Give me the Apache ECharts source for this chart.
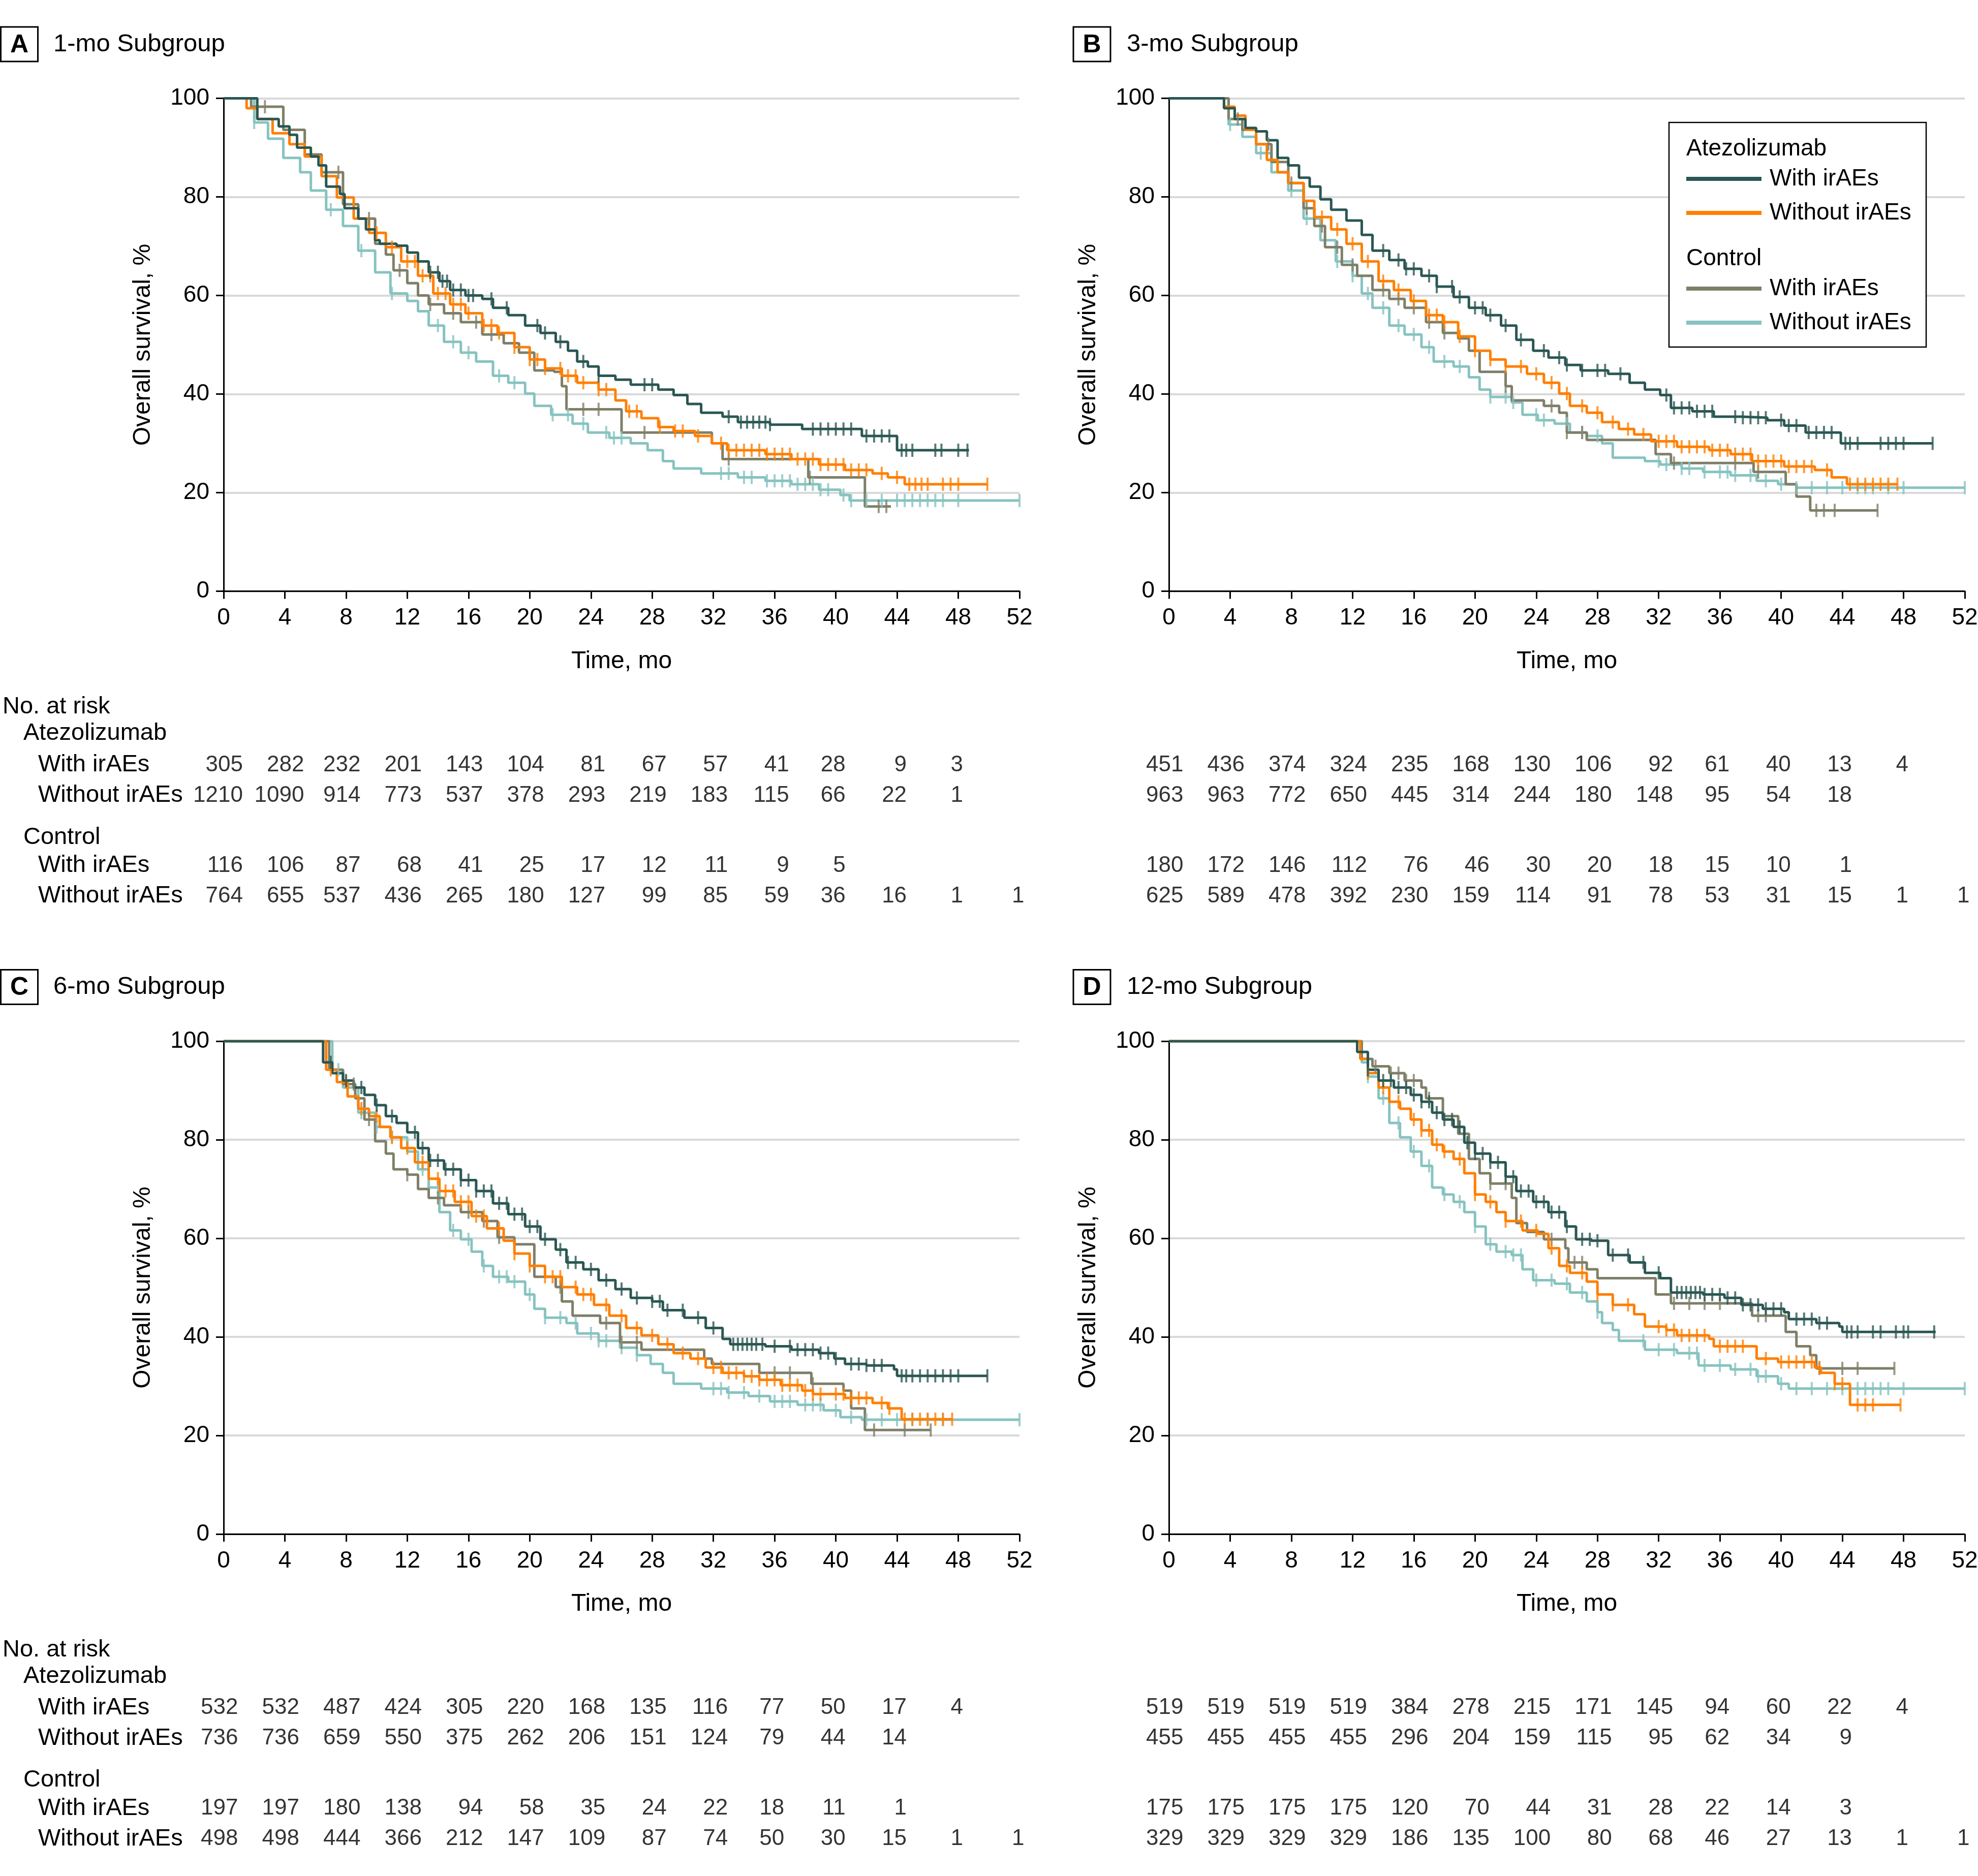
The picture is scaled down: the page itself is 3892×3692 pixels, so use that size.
<!DOCTYPE html>
<html><head><meta charset="utf-8">
<script src="https://cdn.jsdelivr.net/npm/echarts/dist/echarts.min.js"></script>
<style>html,body{margin:0;padding:0;background:#fff}#c{width:3892px;height:3692px}</style>
</head><body><div id="c"></div>
<script>
// ---------------- DATA ----------------
const timeTicks = [0,4,8,12,16,20,24,28,32,36,40,44,48,52];
const panelTitles = ['1-mo Subgroup','3-mo Subgroup','6-mo Subgroup','12-mo Subgroup'];
const panelLetters = ['A','B','C','D'];
const groupNames = ['Atezolizumab','Control'];
const rowNames = ['With irAEs','Without irAEs'];

// Panel A curves [month, survival %]
const A_atezoWith = [[0,100],[1.1,100],[2.2,95.8],[3.6,94.3],[4.3,92.6],[4.8,90.0],[5.7,88.2],[6.2,86.4],[6.7,82.1],[7.6,80.6],[7.9,77.7],[8.8,75.6],[9.3,73.4],[9.9,71.2],[10.2,70.5],[11.3,70.1],[12.0,68.7],[12.7,66.9],[13.4,64.7],[14.1,62.9],[14.8,61.1],[15.8,60.0],[16.9,59.3],[17.6,57.5],[18.6,56.0],[19.7,53.9],[20.7,52.4],[21.7,50.6],[22.5,48.8],[23.1,46.6],[23.8,45.6],[24.5,43.7],[25.6,42.9],[26.6,41.9],[28.4,40.9],[29.4,39.8],[30.3,38.0],[31.2,36.2],[32.6,35.4],[33.6,34.3],[35.7,33.8],[37.8,32.9],[41.7,31.5],[44.0,28.6],[48.7,28.6]];
const A_atezoWithout = [[0,100],[0.9,100],[1.5,98],[2.2,95.8],[3.2,92.9],[4.3,90.7],[5.3,88.2],[6.4,84.2],[7.4,79.9],[8.5,75.6],[9.5,72.7],[10.6,69.8],[11.6,66.9],[12.7,64.0],[13.7,60.4],[14.8,58.2],[15.8,56.4],[16.9,53.9],[17.9,52.4],[19.0,49.5],[20.0,47.0],[21.0,45.2],[22.1,43.7],[23.1,42.3],[24.5,40.9],[25.6,38.7],[26.3,36.5],[27.3,35.1],[28.4,33.3],[29.4,32.5],[30.8,31.5],[31.9,30.0],[32.9,28.6],[35.4,27.8],[37.1,26.8],[38.9,25.7],[40.6,24.6],[42.4,23.9],[43.4,23.1],[44.5,21.7],[49.9,21.7]];
const A_ctrlWith = [[0,100],[1.5,100],[1.8,98.3],[3.9,93.6],[5.3,88.6],[6.4,85.0],[7.8,78.5],[8.8,75.6],[9.9,70.5],[10.6,68.3],[11.1,65.1],[12.0,62.5],[12.7,60.0],[13.4,58.2],[14.4,56.4],[15.5,54.6],[16.9,52.1],[18.3,50.3],[19.3,48.4],[20.3,44.8],[21.6,44.5],[22.1,41.6],[22.4,36.9],[26.0,32.2],[31.9,30.0],[32.6,26.8],[38.2,23.1],[41.9,17.2],[43.6,17.2]];
const A_ctrlWithout = [[0,100],[1.0,100],[2.0,95.1],[2.9,91.8],[3.9,87.9],[5.0,85.0],[5.7,81.3],[6.7,77.4],[7.8,74.1],[8.8,69.1],[9.9,64.7],[10.9,60.4],[12.0,58.9],[12.7,56.8],[13.4,53.9],[14.4,50.6],[15.5,48.4],[16.5,46.6],[17.6,43.7],[18.6,42.3],[19.7,40.1],[20.3,37.6],[21.4,35.8],[22.8,34.0],[23.8,32.2],[25.2,31.1],[26.6,30.0],[27.7,28.6],[28.7,26.4],[29.4,24.9],[31.2,23.9],[33.6,23.1],[35.4,22.4],[37.1,21.7],[38.9,20.6],[40.3,19.5],[40.9,18.4],[52,18.4]];

// Panel B curves
const B_atezoWith = [[0,100],[3.2,100],[3.6,98.0],[4.3,95.8],[5.0,94.0],[5.7,93.3],[6.4,91.5],[7.1,87.9],[7.8,86.4],[8.5,83.9],[9.2,82.1],[9.9,79.5],[10.6,77.4],[11.6,75.2],[12.6,72.3],[13.3,69.1],[14.4,67.2],[15.4,65.4],[16.5,64.0],[17.5,61.8],[18.6,59.7],[19.6,57.5],[20.7,56.0],[21.7,53.9],[22.7,51.0],[23.8,48.8],[24.8,47.4],[25.9,45.9],[26.9,44.8],[28.7,44.1],[30.1,42.3],[31.1,40.9],[32.1,39.8],[32.8,37.2],[34.2,36.5],[35.6,35.4],[37.4,35.2],[39.1,34.7],[40.2,33.6],[41.6,32.2],[43.9,30.0],[49.9,30.0]];
const B_atezoWithout = [[0,100],[3.2,100],[3.6,98.3],[4.3,96.5],[5.0,93.6],[5.7,90.7],[6.4,87.5],[7.1,85.0],[7.8,82.8],[8.8,79.2],[9.5,75.9],[10.6,73.4],[11.6,70.5],[12.6,66.9],[13.7,62.9],[14.7,61.1],[15.8,58.9],[16.8,56.0],[17.9,54.6],[18.9,51.7],[20.0,48.8],[21.0,47.0],[22.0,45.6],[23.4,44.1],[24.5,42.3],[25.5,40.1],[26.2,37.6],[27.3,36.2],[28.3,34.3],[29.4,32.9],[30.4,31.8],[31.5,30.4],[33.2,29.3],[35.3,28.6],[36.7,27.8],[38.1,26.4],[40.2,25.3],[42.2,24.6],[43.3,23.1],[44.3,21.7],[47.6,21.7]];
const B_ctrlWith = [[0,100],[3.2,100],[3.9,95.8],[4.8,93.6],[5.7,90.7],[6.7,87.1],[7.8,82.8],[8.8,77.7],[9.5,74.1],[10.2,69.8],[11.3,66.2],[12.3,64.0],[13.3,61.1],[14.4,59.3],[15.4,57.5],[16.8,54.6],[17.9,52.4],[18.9,51.3],[19.6,48.8],[20.3,44.5],[22.0,41.6],[22.4,38.7],[24.5,37.6],[25.5,36.2],[26.0,32.2],[27.3,30.7],[31.8,27.8],[32.8,26.0],[38.2,24.2],[40.3,21.7],[41.0,19.2],[41.9,16.4],[46.3,16.4]];
const B_ctrlWithout = [[0,100],[3.2,100],[3.9,94.7],[4.8,92.2],[5.7,88.9],[6.7,85.0],[7.8,81.3],[8.8,75.6],[9.9,71.2],[10.9,66.9],[12.0,64.0],[12.6,60.4],[13.3,57.5],[14.4,53.9],[15.4,52.1],[16.5,49.5],[17.3,46.6],[18.6,45.6],[19.6,43.4],[20.3,40.9],[21.0,39.4],[22.4,38.3],[23.1,35.8],[24.1,34.7],[25.2,34.0],[26.2,32.2],[27.3,31.5],[28.3,30.0],[29.0,27.1],[31.1,26.4],[32.1,25.7],[33.5,24.9],[34.9,24.2],[36.7,23.5],[38.4,22.4],[39.8,21.7],[41.0,21.0],[52,21.0]];

// Panel C curves
const C_atezoWith = [[0,100],[6.1,100],[6.5,95.7],[7.1,93.5],[7.8,92.0],[8.5,90.6],[9.2,89.1],[9.9,87.0],[10.6,84.8],[11.3,83.4],[12.0,81.5],[12.7,78.3],[13.4,75.8],[14.4,74.0],[15.5,71.8],[16.5,69.6],[17.6,67.1],[18.6,64.9],[19.7,62.4],[20.7,59.8],[21.7,57.7],[22.4,55.1],[23.5,53.7],[24.5,51.5],[25.6,49.7],[26.6,47.9],[28.0,47.2],[28.7,45.4],[30.1,43.9],[31.5,41.8],[32.6,39.6],[33.1,38.5],[35.4,38.1],[37.1,37.4],[38.9,36.7],[39.9,35.6],[40.6,34.5],[42.0,34.2],[43.8,33.4],[44.0,32.1],[49.9,32.1]];
const C_atezoWithout = [[0,100],[6.1,100],[6.7,94.2],[7.4,91.7],[8.1,88.8],[8.8,86.3],[9.5,84.8],[10.2,82.6],[10.9,80.5],[11.6,78.3],[12.5,75.4],[13.4,72.1],[14.1,69.6],[15.1,67.4],[16.2,64.5],[17.2,62.0],[18.3,59.5],[19.0,56.9],[20.0,54.4],[21.0,52.2],[22.1,50.1],[23.1,48.6],[24.2,46.5],[25.2,44.3],[26.3,41.8],[27.3,40.3],[28.4,38.5],[29.4,36.7],[30.5,35.6],[31.5,33.8],[32.6,32.7],[34.0,32.0],[35.0,31.3],[36.4,30.2],[37.8,29.1],[38.5,28.4],[40.6,27.6],[42.4,26.6],[43.4,25.5],[44.3,23.3],[47.6,23.3]];
const C_ctrlWith = [[0,100],[6.1,100],[6.9,94.2],[7.8,91.3],[8.6,88.4],[9.2,84.1],[9.9,79.7],[10.6,77.2],[11.1,74.0],[12.0,72.9],[12.7,70.0],[13.4,68.2],[14.4,66.7],[15.5,65.3],[16.9,63.5],[17.9,60.2],[19.0,58.8],[20.3,52.2],[21.7,50.1],[22.1,47.2],[22.8,44.3],[24.6,42.8],[25.9,38.9],[27.3,37.4],[31.4,35.6],[31.9,34.5],[35.0,32.7],[38.4,30.5],[40.5,29.1],[41.0,25.5],[41.9,21.1],[46.2,21.1]];
const C_ctrlWithout = [[0,100],[6.2,100],[7.1,94.2],[7.8,90.6],[8.8,85.5],[9.9,82.6],[10.9,80.5],[12.0,77.6],[12.7,74.0],[13.4,70.3],[14.1,65.3],[14.8,61.6],[15.5,59.8],[16.2,57.3],[16.9,54.4],[17.6,52.2],[18.6,51.2],[19.7,48.6],[20.3,45.7],[21.0,43.9],[22.4,42.8],[23.1,40.7],[24.5,39.2],[25.9,37.8],[27.0,36.3],[27.9,34.5],[28.7,32.7],[29.4,30.5],[31.2,29.5],[32.9,28.7],[34.3,28.0],[35.7,26.9],[37.5,26.2],[39.2,25.1],[40.3,23.7],[41.7,23.2],[52,23.2]];

// Panel D curves
const D_atezoWith = [[0,100],[12.0,100],[12.3,97.8],[13.0,94.2],[13.7,92.0],[14.7,90.6],[15.8,89.1],[16.5,87.7],[17.2,85.5],[17.9,84.1],[18.6,82.6],[19.3,79.4],[20.0,77.2],[21.0,75.4],[22.0,72.5],[22.7,69.6],[23.8,67.4],[24.8,65.3],[25.9,62.4],[26.6,59.8],[27.6,59.5],[28.7,56.6],[30.1,55.1],[31.1,53.0],[32.1,51.9],[32.8,49.0],[34.9,48.6],[36.3,47.9],[37.4,46.5],[38.8,45.7],[40.2,45.0],[40.5,43.6],[42.3,42.8],[43.8,42.1],[44.0,41.0],[50.1,41.0]];
const D_atezoWithout = [[0,100],[12.0,100],[12.5,96.4],[13.0,93.5],[13.7,90.6],[14.4,87.7],[15.1,86.3],[15.8,84.1],[16.5,81.9],[17.2,79.0],[17.9,77.6],[18.6,76.1],[19.3,73.2],[20.0,68.9],[20.7,67.4],[21.4,65.3],[22.0,63.5],[23.1,61.6],[24.1,60.9],[24.8,58.0],[25.5,54.4],[26.2,53.0],[27.3,51.2],[28.0,48.6],[29.0,46.5],[30.4,44.6],[31.1,42.1],[32.5,41.4],[33.2,40.3],[35.3,39.6],[35.6,38.1],[38.4,35.6],[39.8,34.9],[42.2,33.8],[42.6,32.7],[43.5,30.5],[44.5,26.2],[47.8,26.2]];
const D_ctrlWith = [[0,100],[12.0,100],[12.6,96.4],[13.3,94.9],[14.4,93.5],[15.4,92.0],[16.5,90.6],[16.8,88.4],[17.9,84.8],[18.9,81.2],[19.6,76.1],[20.3,73.2],[21.0,71.1],[22.4,68.2],[22.7,63.1],[23.4,61.3],[24.5,59.8],[25.9,58.0],[26.1,55.1],[27.3,53.7],[28.0,51.9],[31.8,48.6],[32.8,46.8],[38.1,44.3],[40.3,41.0],[41.0,38.1],[41.9,36.3],[42.3,33.6],[47.4,33.6]];
const D_ctrlWithout = [[0,100],[12.0,100],[12.6,95.7],[13.0,92.8],[13.7,88.4],[14.4,83.4],[15.1,80.5],[15.8,77.6],[16.5,74.7],[17.2,70.3],[17.9,68.9],[18.6,67.4],[19.3,65.3],[20.0,62.4],[20.7,58.8],[21.4,57.3],[22.4,56.6],[23.1,53.7],[23.8,51.5],[25.2,50.8],[26.2,49.0],[27.3,47.2],[28.0,45.0],[28.3,42.8],[29.0,41.4],[29.4,39.2],[31.1,37.4],[33.2,36.7],[34.6,34.2],[36.7,33.4],[38.4,32.0],[39.8,30.5],[40.5,29.5],[52,29.5]];

// Censoring times (months)
const A_atezoWith_cens = [13.5,14.0,14.3,14.6,15.0,15.5,16.0,16.3,17.5,18.5,20.5,21.0,22.0,23.5,24.5,27.5,28.0,33.0,33.8,34.2,34.6,35.0,35.4,35.7,38.5,39.0,39.5,40.0,40.5,41.0,42.0,42.5,43.0,43.5,44.3,44.6,45.0,46.5,46.9,48.0,48.6];
const A_atezoWithout_cens = [10.0,11.0,12.0,12.5,13.0,13.5,14.0,14.5,15.0,15.5,16.0,17.0,17.5,18.0,19.0,20.0,20.5,21.0,22.0,22.5,23.0,23.5,24.5,25.0,26.5,27.0,28.5,29.5,30.0,31.0,32.5,33.0,33.5,34.0,34.5,35.0,35.5,36.0,36.5,37.0,37.5,38.0,38.5,39.0,39.5,40.0,40.5,41.0,41.5,42.0,43.0,44.0,44.8,45.2,45.6,46.0,47.0,47.5,48.0,49.9];
const A_ctrlWith_cens = [2.7,7.5,9.5,11.5,13.5,15.0,16.5,17.5,23.5,24.5,27.5,33.0,38.3,42.8,43.3];
const A_ctrlWithout_cens = [2.0,7.0,9.0,11.0,14.0,15.0,16.0,18.0,19.0,21.5,22.5,23.5,25.0,25.5,26.0,32.5,33.0,34.0,34.5,35.5,36.0,36.5,37.0,37.5,38.0,38.5,39.0,39.5,40.5,41.0,42.0,43.0,44.0,44.5,45.0,45.5,46.0,46.5,47.0,48.0,52.0];
const B_atezoWith_cens = [14,15,15.5,16,17,17.5,18.5,19,20,20.5,21,22,23,24.5,25.5,26,27,28,28.5,29.5,32.5,33,33.5,34,34.5,35,35.5,37,37.5,38,38.5,39,40,40.5,41,41.8,42.3,42.8,43.3,44.2,44.5,45,46.5,47,47.5,48,49.9];
const B_atezoWithout_cens = [10,11,12,13,14,15,16,17,17.5,18,19,20,21,22,23,24,25,26,27,28,29,30,31,32,32.5,33,33.5,34,34.5,35,35.5,36,36.5,37,37.5,38,38.5,39,39.5,40,40.5,41,41.5,42,43,44.5,45,45.5,46,46.5,47,47.6];
const B_ctrlWith_cens = [4.5,6.5,8,9,10,11,12,14,15,16,17,18,22,25,26,27,33,37,38.5,42.3,42.8,43.5,46.3];
const B_ctrlWithout_cens = [4,6,8,9,11,12,13,14,15,16,17,18,19,21,22,22.5,24,24.5,26,27,28,32,32.5,33.5,34,35,36,36.5,37,38,39,40,41,42,43,44,45,45.5,46,47,48,52];
const C_atezoWith_cens = [7,8,9,10,11,12.5,13,13.5,14,14.5,15,15.5,16,16.5,17,17.5,18,18.5,19,19.5,20,20.5,21,22,22.5,23,24,25,26,27,28,28.5,29,30,31,32,33.3,33.6,33.9,34.2,34.5,34.8,35.2,36,37,37.5,38,38.5,39,39.5,40,41,41.5,42,42.5,43,44.3,44.6,45,45.5,46,46.5,47,47.5,48,49.9];
const C_atezoWithout_cens = [7,8,9,10,11,12,13,14,14.5,15,15.5,16,16.5,17,18,19,20,21,21.5,22,23,23.5,24,25,26,27,28,29,30,31,32,32.5,33,33.5,34,34.5,35,35.5,36,36.5,37,37.5,38,38.5,39,40,40.5,41,41.5,42,43,43.5,44.5,45,45.5,46,46.5,47,47.6];
const C_ctrlWith_cens = [8.5,9.5,12,14,16,17,18,22,25,26,27,36,37,38.5,42.5,44.5,46.2];
const C_ctrlWithout_cens = [7.5,9,10,11,13,14,15,16,17,18,18.5,19,20,21,22,23,24,24.5,25,26,27,32,32.5,33,34,35,36,36.5,37,38,38.5,39,40,41,42,43,44,45,46,47,52];
const D_atezoWith_cens = [13,14,14.5,15,15.5,16,16.5,17,17.5,18,18.5,19,19.5,20,20.5,21,21.5,22,22.5,23,23.5,24,24.5,25,25.5,26,27,27.5,28,29,30,31,32,33.2,33.5,33.8,34.1,34.4,34.7,35,35.5,36,36.5,37,37.5,38,38.5,39,39.5,40,41,41.5,42,42.5,43,44.3,44.6,45,46,46.5,47.5,48,48.3,50];
const D_atezoWithout_cens = [13,14,15,16,16.5,17,17.5,18,19,20,21,22,23,24,25,26,27,28,29,30,32,32.5,33,33.5,34,34.5,35,36,36.5,37,37.5,39,40,40.5,41,41.5,42,42.5,43.5,44,45,45.5,46,47.8];
const D_ctrlWith_cens = [13.5,14.5,15,15.5,16,17,21,22,25,26.5,27,33,34,35,36,38.5,39,42.5,44,45,47.4];
const D_ctrlWithout_cens = [13,14,15,16,17,18,19,20,21,22,22.5,23,24,25,26,27,28,31,32,33,34,34.5,35,36,37,38,38.5,39,40,41,42,43,44,45,45.5,46,46.5,47,48,52];

// Numbers at risk (at 0, 4, 8, ... months)
const A_riskAtezoWith = [305,282,232,201,143,104,81,67,57,41,28,9,3];
const A_riskAtezoWithout = [1210,1090,914,773,537,378,293,219,183,115,66,22,1];
const A_riskCtrlWith = [116,106,87,68,41,25,17,12,11,9,5];
const A_riskCtrlWithout = [764,655,537,436,265,180,127,99,85,59,36,16,1,1];
const B_riskAtezoWith = [451,436,374,324,235,168,130,106,92,61,40,13,4];
const B_riskAtezoWithout = [963,963,772,650,445,314,244,180,148,95,54,18];
const B_riskCtrlWith = [180,172,146,112,76,46,30,20,18,15,10,1];
const B_riskCtrlWithout = [625,589,478,392,230,159,114,91,78,53,31,15,1,1];
const C_riskAtezoWith = [532,532,487,424,305,220,168,135,116,77,50,17,4];
const C_riskAtezoWithout = [736,736,659,550,375,262,206,151,124,79,44,14];
const C_riskCtrlWith = [197,197,180,138,94,58,35,24,22,18,11,1];
const C_riskCtrlWithout = [498,498,444,366,212,147,109,87,74,50,30,15,1,1];
const D_riskAtezoWith = [519,519,519,519,384,278,215,171,145,94,60,22,4];
const D_riskAtezoWithout = [455,455,455,455,296,204,159,115,95,62,34,9];
const D_riskCtrlWith = [175,175,175,175,120,70,44,31,28,22,14,3];
const D_riskCtrlWithout = [329,329,329,329,186,135,100,80,68,46,27,13,1,1];

// ---------------- STYLE / LAYOUT ----------------
const FONT = "'Liberation Sans', Arial, Helvetica, sans-serif";
const COL = {atezoWith:'#2a5753', atezoWithout:'#ff7f00', ctrlWith:'#7f7f68', ctrlWithout:'#86c3c0'};
const PW = 1566, PH = 970;
const layout = [
  {left:440,  top:193.5, boxX:1.5,  titleX:105,  labels:true},
  {left:2300, top:193.5, boxX:2112, titleX:2217, labels:false},
  {left:440,  top:2049,  boxX:1.5,  titleX:105,  labels:true},
  {left:2300, top:2049,  boxX:2112, titleX:2217, labels:false}
];
const panels = [
  {curves:{atezoWith:A_atezoWith, atezoWithout:A_atezoWithout, ctrlWith:A_ctrlWith, ctrlWithout:A_ctrlWithout},
   cens:{atezoWith:A_atezoWith_cens, atezoWithout:A_atezoWithout_cens, ctrlWith:A_ctrlWith_cens, ctrlWithout:A_ctrlWithout_cens},
   risk:[A_riskAtezoWith, A_riskAtezoWithout, A_riskCtrlWith, A_riskCtrlWithout]},
  {curves:{atezoWith:B_atezoWith, atezoWithout:B_atezoWithout, ctrlWith:B_ctrlWith, ctrlWithout:B_ctrlWithout},
   cens:{atezoWith:B_atezoWith_cens, atezoWithout:B_atezoWithout_cens, ctrlWith:B_ctrlWith_cens, ctrlWithout:B_ctrlWithout_cens},
   risk:[B_riskAtezoWith, B_riskAtezoWithout, B_riskCtrlWith, B_riskCtrlWithout]},
  {curves:{atezoWith:C_atezoWith, atezoWithout:C_atezoWithout, ctrlWith:C_ctrlWith, ctrlWithout:C_ctrlWithout},
   cens:{atezoWith:C_atezoWith_cens, atezoWithout:C_atezoWithout_cens, ctrlWith:C_ctrlWith_cens, ctrlWithout:C_ctrlWithout_cens},
   risk:[C_riskAtezoWith, C_riskAtezoWithout, C_riskCtrlWith, C_riskCtrlWithout]},
  {curves:{atezoWith:D_atezoWith, atezoWithout:D_atezoWithout, ctrlWith:D_ctrlWith, ctrlWithout:D_ctrlWithout},
   cens:{atezoWith:D_atezoWith_cens, atezoWithout:D_atezoWithout_cens, ctrlWith:D_ctrlWith_cens, ctrlWithout:D_ctrlWithout_cens},
   risk:[D_riskAtezoWith, D_riskAtezoWithout, D_riskCtrlWith, D_riskCtrlWithout]}
];
const drawOrder = ['ctrlWithout','ctrlWith','atezoWithout','atezoWith'];

function survAt(curve, t){ let y = curve[0][1]; for (const p of curve){ if (p[0] <= t) y = p[1]; else break; } return y; }

const chart = echarts.init(document.getElementById('c'), null, {renderer:'canvas', width:3892, height:3692});
const option = {animation:false, backgroundColor:'#fff', grid:[], xAxis:[], yAxis:[], series:[], graphic:[]};
const RISK_FS = 44, DIGIT_W = 19;
const txt = (text, x, y, size, extra) => Object.assign({type:'text', silent:true, style:{text, x, y, fontSize:size, fontFamily:FONT, fill:'#000', align:'left', verticalAlign:'middle'}}, extra||{});

panels.forEach((P, pi) => {
  const L = layout[pi];
  const g = pi*3;
  option.grid.push({left:L.left, top:L.top, width:PW, height:PH, containLabel:false, outerBoundsMode:'none'});
  option.xAxis.push({type:'value', gridIndex:g, min:0, max:52, interval:4,
    name:'Time, mo', nameLocation:'middle', nameGap:114, nameTextStyle:{fontSize:48, fontFamily:FONT, color:'#000'},
    axisLine:{onZero:false, lineStyle:{color:'#000', width:3}}, axisTick:{show:true, length:15, lineStyle:{color:'#000', width:3}},
    axisLabel:{fontSize:46, fontFamily:FONT, color:'#000', margin:30}, splitLine:{show:false}});
  option.yAxis.push({type:'value', gridIndex:g, min:0, max:100, interval:20,
    name:'Overall survival, %', nameLocation:'middle', nameGap:134, nameTextStyle:{fontSize:48, fontFamily:FONT, color:'#000'},
    axisLine:{show:true, onZero:false, lineStyle:{color:'#000', width:3}}, axisTick:{show:true, length:15, lineStyle:{color:'#000', width:3}},
    axisLabel:{fontSize:46, fontFamily:FONT, color:'#000', margin:28}, splitLine:{show:true, lineStyle:{color:'#d9d9d9', width:4}}});
  const riskTops = [L.top + 1282, L.top + 1480];
  riskTops.forEach(t => {
    option.grid.push({left:L.left, top:t, width:PW, height:120, containLabel:false, outerBoundsMode:'none'});
  });
  [1,2].forEach(k => {
    option.xAxis.push({type:'value', gridIndex:g+k, min:0, max:52, show:false});
    option.yAxis.push({type:'category', gridIndex:g+k, data:rowNames, inverse:true, show:false});
  });

  drawOrder.forEach(key => {
    const curve = P.curves[key];
    option.series.push({type:'line', xAxisIndex:g, yAxisIndex:g, data:curve, step:'end', showSymbol:false, symbol:'none',
      lineStyle:{color:COL[key], width:5}, silent:true, z:2});
    option.series.push({type:'scatter', xAxisIndex:g, yAxisIndex:g, symbol:'rect', symbolSize:[4,26],
      itemStyle:{color:COL[key]}, silent:true, z:2,
      data:P.cens[key].map(t => [t, survAt(curve, t)])});
  });

  const maxLen = timeTicks.map((t, i) => Math.max(...P.risk.map(r => r[i] === undefined ? 0 : String(r[i]).length)));
  P.risk.forEach((row, ri) => {
    const gi = g + 1 + Math.floor(ri/2);
    option.series.push({type:'scatter', xAxisIndex:gi, yAxisIndex:gi, symbolSize:0, silent:true,
      data: row.map((n, i) => ({value:[timeTicks[i], ri%2, n],
        label:{offset:[maxLen[i]*DIGIT_W/2, 0]}})),
      label:{show:true, position:'inside', align:'right', verticalAlign:'middle', formatter:p => String(p.value[2]),
        fontSize:RISK_FS, fontFamily:FONT, color:'#000'}});
  });

  const ty = L.top - 106.5;
  option.graphic.push({type:'rect', silent:true, shape:{x:L.boxX, y:ty-34, width:73, height:68}, style:{fill:'#fff', stroke:'#000', lineWidth:3}});
  option.graphic.push({type:'text', silent:true, style:{text:panelLetters[pi], x:L.boxX+36.5, y:ty+2, fontSize:50, fontWeight:'bold', fontFamily:FONT, fill:'#000', align:'center', verticalAlign:'middle'}});
  option.graphic.push(txt(panelTitles[pi], L.titleX, ty, 49));

  if (L.labels) {
    option.graphic.push(txt('No. at risk', 5, L.top + 1198, 47));
    option.graphic.push(txt(groupNames[0], 46, L.top + 1250, 47));
    option.graphic.push(txt(rowNames[0], 75, L.top + 1312, 47));
    option.graphic.push(txt(rowNames[1], 75, L.top + 1372, 47));
    option.graphic.push(txt(groupNames[1], 46, L.top + 1454.5, 47));
    option.graphic.push(txt(rowNames[0], 75, L.top + 1510, 47));
    option.graphic.push(txt(rowNames[1], 75, L.top + 1570, 47));
  }
});

// legend (panel B)
const LG = {x:3284, y:241, w:506, h:442};
option.graphic.push({type:'rect', silent:true, z:10, shape:{x:LG.x, y:LG.y, width:LG.w, height:LG.h}, style:{fill:'#fff', stroke:'#000', lineWidth:2.5}});
const legendRows = [
  {head:groupNames[0], y:293},
  {key:'atezoWith', text:rowNames[0], y:352},
  {key:'atezoWithout', text:rowNames[1], y:419},
  {head:groupNames[1], y:509},
  {key:'ctrlWith', text:rowNames[0], y:568},
  {key:'ctrlWithout', text:rowNames[1], y:635}
];
legendRows.forEach(r => {
  if (r.head) { option.graphic.push(Object.assign(txt(r.head, 3318, r.y, 46), {z:11})); }
  else {
    option.graphic.push({type:'line', silent:true, z:11, shape:{x1:3318, y1:r.y, x2:3466, y2:r.y}, style:{stroke:COL[r.key], lineWidth:8}});
    option.graphic.push(Object.assign(txt(r.text, 3482, r.y, 46), {z:11}));
  }
});

chart.setOption(option);
</script></body></html>
